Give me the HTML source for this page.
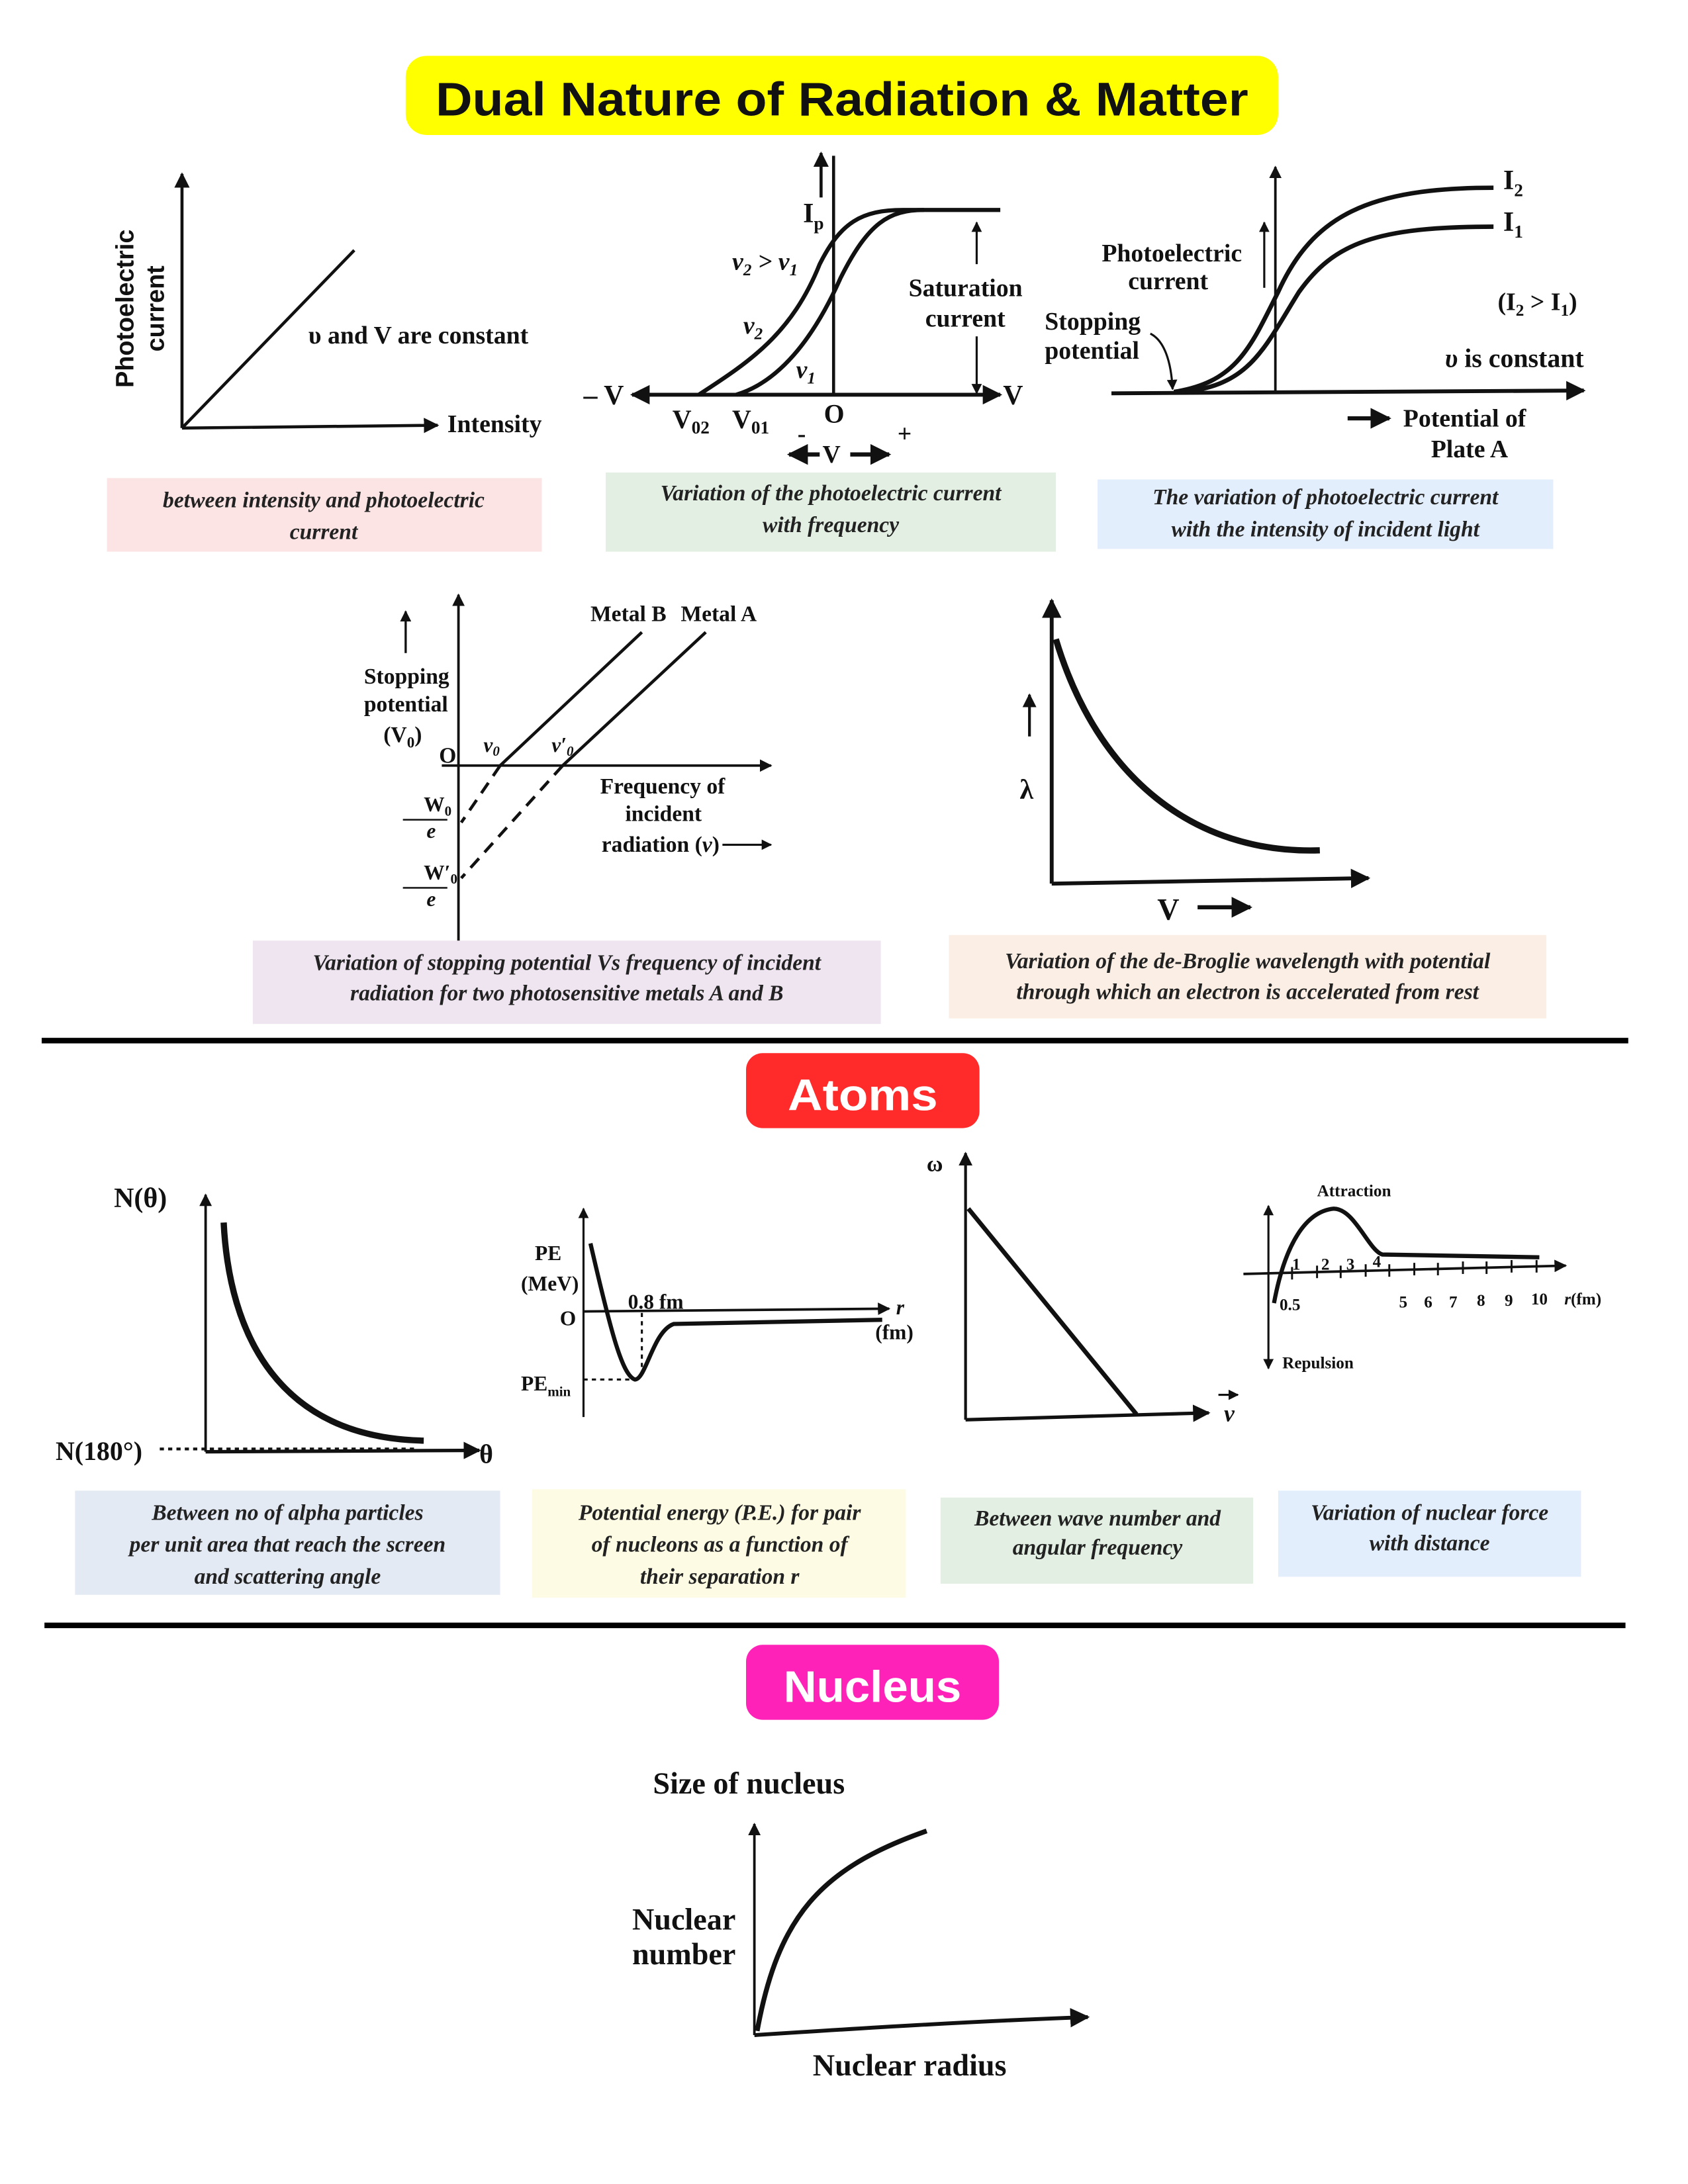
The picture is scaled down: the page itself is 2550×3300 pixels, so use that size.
<!DOCTYPE html>
<html><head><meta charset="utf-8"><style>
html,body{margin:0;padding:0;background:#fff;}
svg{display:block;}
.c{font-family:"Liberation Serif",serif;font-style:italic;font-weight:bold;font-size:16px;fill:#222;}
.l{font-family:"Liberation Serif",serif;font-weight:bold;fill:#111;}
</style></head><body>
<svg width="2550" height="3300" viewBox="0 0 1215 1572" xmlns="http://www.w3.org/2000/svg">
<defs>
<marker id="a" viewBox="0 0 10 10" refX="9" refY="5" markerWidth="5" markerHeight="5" orient="auto-start-reverse"><path d="M0,0 L10,5 L0,10 z" fill="#111"/></marker>
</defs>
<rect width="1215" height="1572" fill="#fff"/>
<!-- Title -->
<rect x="292" y="40" width="628" height="57" rx="15" fill="#ffff00"/>
<text x="606" y="83" text-anchor="middle" font-family="Liberation Sans,sans-serif" font-weight="bold" font-size="34" textLength="585" lengthAdjust="spacingAndGlyphs" fill="#111">Dual Nature of Radiation &amp; Matter</text>

<g stroke="#111" fill="none" stroke-width="2.2">
<!-- Graph1 -->
<line x1="131" y1="308" x2="131" y2="125" marker-end="url(#a)"/>
<line x1="131" y1="308" x2="315" y2="306" marker-end="url(#a)"/>
<line x1="131" y1="308" x2="255" y2="180"/>
<!-- Graph2 -->
<line x1="600" y1="285" x2="600" y2="112"/>
<line x1="591" y1="142" x2="591" y2="110" marker-end="url(#a)"/>
<line x1="455" y1="284" x2="720" y2="284" marker-start="url(#a)" marker-end="url(#a)" stroke-width="2.8"/>
<path d="M503,284 C540,260 570,240 590,190 C605,160 620,151 650,151 L720,151" stroke-width="3"/>
<path d="M530,284 C560,275 585,245 605,200 C625,160 640,151 665,151" stroke-width="3"/>
<line x1="703" y1="190" x2="703" y2="160" marker-end="url(#a)" stroke-width="1.5"/>
<line x1="703" y1="242" x2="703" y2="283" marker-end="url(#a)" stroke-width="1.5"/>
<line x1="590" y1="327" x2="568" y2="327" marker-end="url(#a)" stroke-width="3"/>
<line x1="612" y1="327" x2="640" y2="327" marker-end="url(#a)" stroke-width="3"/>
<!-- Graph3 -->
<line x1="918" y1="283" x2="918" y2="120" stroke-width="1.8" marker-end="url(#a)"/>
<line x1="800" y1="283" x2="1140" y2="281" marker-end="url(#a)" stroke-width="2.8"/>
<path d="M845,282 C890,275 900,250 920,210 C945,155 985,135 1075,135" stroke-width="3.2"/>
<path d="M850,282 C900,278 910,250 935,210 C960,175 990,163 1075,163" stroke-width="3.2"/>
<line x1="910" y1="207" x2="910" y2="160" marker-end="url(#a)" stroke-width="1.5"/>
<path d="M828,240 C838,245 843,260 844,280" stroke-width="1.5" marker-end="url(#a)"/>
<line x1="970" y1="301" x2="1000" y2="301" marker-end="url(#a)" stroke-width="3"/>
<!-- Graph4 -->
<line x1="330" y1="685" x2="330" y2="428" marker-end="url(#a)" stroke-width="1.8"/>
<line x1="292" y1="470" x2="292" y2="440" marker-end="url(#a)" stroke-width="1.6"/>
<line x1="318" y1="551" x2="555" y2="551" marker-end="url(#a)" stroke-width="1.8"/>
<line x1="360" y1="551" x2="462" y2="455"/>
<line x1="360" y1="551" x2="332" y2="592" stroke-dasharray="9,6"/>
<line x1="405" y1="551" x2="508" y2="455"/>
<line x1="405" y1="551" x2="332" y2="632" stroke-dasharray="9,6"/>
<line x1="520" y1="608" x2="555" y2="608" marker-end="url(#a)" stroke-width="1.5"/>
<!-- Graph5 -->
<line x1="757" y1="636" x2="757" y2="432" marker-end="url(#a)" stroke-width="2.8"/>
<line x1="757" y1="636" x2="985" y2="632" marker-end="url(#a)" stroke-width="2.8"/>
<path d="M760,460 C790,560 860,615 950,612" stroke-width="4.5"/>
<line x1="741" y1="530" x2="741" y2="500" marker-end="url(#a)" stroke-width="2"/>
<line x1="862" y1="653" x2="900" y2="653" marker-end="url(#a)" stroke-width="3"/>
<!-- Graph N(theta) -->
<line x1="148" y1="1045" x2="148" y2="860" marker-end="url(#a)" stroke-width="1.8"/>
<line x1="148" y1="1045" x2="345" y2="1044" marker-end="url(#a)" stroke-width="2.5"/>
<path d="M161,880 C165,960 200,1035 305,1037" stroke-width="4.5"/>
<line x1="115" y1="1043" x2="300" y2="1043" stroke-dasharray="3,3" stroke-width="2"/>
<!-- Graph PE -->
<line x1="420" y1="1020" x2="420" y2="870" marker-end="url(#a)" stroke-width="1.5"/>
<line x1="420" y1="944" x2="640" y2="942" marker-end="url(#a)" stroke-width="1.8"/>
<path d="M425,895 C440,960 448,990 457,993 C465,993 470,958 485,953 L635,950" stroke-width="3"/>
<line x1="462" y1="945" x2="462" y2="993" stroke-dasharray="3,3" stroke-width="1.5"/>
<line x1="420" y1="993" x2="455" y2="993" stroke-dasharray="3,3" stroke-width="1.5"/>
<!-- Graph omega -->
<line x1="695" y1="1022" x2="695" y2="830" marker-end="url(#a)" stroke-width="2"/>
<line x1="695" y1="1022" x2="870" y2="1017" marker-end="url(#a)" stroke-width="2.5"/>
<line x1="697" y1="870" x2="818" y2="1018" stroke-width="3.2"/>
<line x1="877" y1="1004" x2="891" y2="1004" marker-end="url(#a)" stroke-width="1.5"/>
<!-- Graph nuclear force -->
<line x1="913" y1="915" x2="913" y2="868" marker-end="url(#a)" stroke-width="1.5"/>
<line x1="913" y1="915" x2="913" y2="985" marker-end="url(#a)" stroke-width="1.5"/>
<line x1="895" y1="917" x2="1127" y2="911" marker-end="url(#a)" stroke-width="1.8"/>
<path d="M917,938 C925,895 940,872 960,870 C975,870 985,900 995,903 L1108,905" stroke-width="3"/>
<g stroke-width="1.4">
<line x1="930" y1="912" x2="930" y2="921"/><line x1="948" y1="911" x2="948" y2="920"/><line x1="965" y1="911" x2="965" y2="920"/><line x1="983" y1="910" x2="983" y2="919"/><line x1="1000" y1="910" x2="1000" y2="919"/><line x1="1018" y1="909" x2="1018" y2="918"/><line x1="1035" y1="909" x2="1035" y2="918"/><line x1="1053" y1="908" x2="1053" y2="917"/><line x1="1070" y1="908" x2="1070" y2="917"/><line x1="1088" y1="907" x2="1088" y2="916"/><line x1="1106" y1="907" x2="1106" y2="916"/>
</g>
<!-- Nucleus graph -->
<line x1="543" y1="1465" x2="543" y2="1313" marker-end="url(#a)" stroke-width="1.8"/>
<path d="M543,1465 C620,1460 700,1455 783,1452" stroke-width="2.8" marker-end="url(#a)"/>
<path d="M545,1462 C560,1380 590,1345 667,1318" stroke-width="3.5"/>
</g>

<!-- Graph1 labels -->
<text class="l" font-family="Liberation Sans,sans-serif" font-size="18" transform="translate(96,222) rotate(-90)" text-anchor="middle" style="font-family:'Liberation Sans',sans-serif">Photoelectric</text>
<text class="l" font-size="18" transform="translate(118,222) rotate(-90)" text-anchor="middle" style="font-family:'Liberation Sans',sans-serif">current</text>
<text class="l" x="222" y="247" font-size="18">υ and V are constant</text>
<text class="l" x="322" y="311" font-size="18">Intensity</text>
<!-- Graph2 labels -->
<text class="l" x="578" y="160" font-size="20">I<tspan font-size="13" dy="5">p</tspan></text>
<text class="l" x="527" y="194" font-size="18" font-style="italic">ν<tspan font-size="12" dy="4">2</tspan><tspan dy="-4"> &gt; ν</tspan><tspan font-size="12" dy="4">1</tspan></text>
<text class="l" x="535" y="240" font-size="18" font-style="italic">ν<tspan font-size="12" dy="4">2</tspan></text>
<text class="l" x="573" y="272" font-size="18" font-style="italic">ν<tspan font-size="12" dy="4">1</tspan></text>
<text class="l" x="654" y="213" font-size="18">Saturation</text>
<text class="l" x="666" y="235" font-size="18">current</text>
<text class="l" x="420" y="291" font-size="20">– V</text>
<text class="l" x="722" y="291" font-size="20">V</text>
<text class="l" x="484" y="308" font-size="19">V<tspan font-size="13" dy="4">02</tspan></text>
<text class="l" x="527" y="308" font-size="19">V<tspan font-size="13" dy="4">01</tspan></text>
<text class="l" x="593" y="304" font-size="19">O</text>
<text class="l" x="574" y="318" font-size="18">-</text>
<text class="l" x="646" y="318" font-size="18">+</text>
<text class="l" x="592" y="333" font-size="18">V</text>
<!-- Graph3 labels -->
<text class="l" x="1082" y="136" font-size="20">I<tspan font-size="13" dy="5">2</tspan></text>
<text class="l" x="1082" y="166" font-size="20">I<tspan font-size="13" dy="5">1</tspan></text>
<text class="l" x="793" y="188" font-size="18">Photoelectric</text>
<text class="l" x="812" y="208" font-size="18">current</text>
<text class="l" x="752" y="237" font-size="18">Stopping</text>
<text class="l" x="752" y="258" font-size="18">potential</text>
<text class="l" x="1078" y="223" font-size="18">(I<tspan font-size="12" dy="4">2</tspan><tspan dy="-4"> &gt; I</tspan><tspan font-size="12" dy="4">1</tspan><tspan dy="-4">)</tspan></text>
<text class="l" x="1040" y="264" font-size="19"><tspan font-style="italic">υ</tspan> is constant</text>
<text class="l" x="1010" y="307" font-size="18">Potential of</text>
<text class="l" x="1030" y="329" font-size="18">Plate A</text>
<!-- Graph4 labels -->
<text class="l" x="425" y="447" font-size="16">Metal B</text>
<text class="l" x="490" y="447" font-size="16">Metal A</text>
<text class="l" x="262" y="492" font-size="16">Stopping</text>
<text class="l" x="262" y="512" font-size="16">potential</text>
<text class="l" x="276" y="534" font-size="16">(V<tspan font-size="11" dy="4">0</tspan><tspan dy="-4">)</tspan></text>
<text class="l" x="316" y="549" font-size="16">O</text>
<text class="l" x="348" y="541" font-size="15" font-style="italic">ν<tspan font-size="10" dy="3">0</tspan></text>
<text class="l" x="397" y="541" font-size="15" font-style="italic">ν′<tspan font-size="10" dy="3">0</tspan></text>
<text class="l" x="432" y="571" font-size="16">Frequency of</text>
<text class="l" x="450" y="591" font-size="16">incident</text>
<text class="l" x="433" y="613" font-size="16">radiation (<tspan font-style="italic">ν</tspan>)</text>
<text class="l" x="305" y="584" font-size="15">W<tspan font-size="10" dy="3">0</tspan></text>
<line x1="290" y1="590" x2="322" y2="590" stroke="#111" stroke-width="1.2"/>
<text class="l" x="307" y="603" font-size="15" font-style="italic">e</text>
<text class="l" x="305" y="633" font-size="15">W′<tspan font-size="10" dy="3">0</tspan></text>
<line x1="290" y1="639" x2="322" y2="639" stroke="#111" stroke-width="1.2"/>
<text class="l" x="307" y="652" font-size="15" font-style="italic">e</text>
<!-- Graph5 labels -->
<text class="l" x="734" y="575" font-size="20">λ</text>
<text class="l" x="833" y="662" font-size="22">V</text>
<!-- Atoms graph labels -->
<text class="l" x="82" y="869" font-size="20">N(θ)</text>
<text class="l" x="40" y="1051" font-size="19">N(180°)</text>
<text class="l" x="345" y="1053" font-size="19">θ</text>
<text class="l" x="385" y="907" font-size="15">PE</text>
<text class="l" x="375" y="929" font-size="15">(MeV)</text>
<text class="l" x="403" y="954" font-size="15">O</text>
<text class="l" x="452" y="942" font-size="15">0.8 fm</text>
<text class="l" x="375" y="1001" font-size="15">PE<tspan font-size="10" dy="4">min</tspan></text>
<text class="l" x="645" y="946" font-size="15" font-style="italic">r</text>
<text class="l" x="630" y="964" font-size="15">(fm)</text>
<text class="l" x="667" y="843" font-size="16">ω</text>
<text class="l" x="881" y="1023" font-size="17" font-style="italic">ν</text>
<text class="l" x="948" y="861" font-size="12">Attraction</text>
<text class="l" x="930" y="914" font-size="12">1</text><text class="l" x="951" y="914" font-size="12">2</text><text class="l" x="969" y="914" font-size="12">3</text><text class="l" x="988" y="912" font-size="12">4</text>
<text class="l" x="921" y="943" font-size="12">0.5</text>
<text class="l" x="1007" y="941" font-size="12">5</text><text class="l" x="1025" y="941" font-size="12">6</text><text class="l" x="1043" y="941" font-size="12">7</text><text class="l" x="1063" y="940" font-size="12">8</text><text class="l" x="1083" y="940" font-size="12">9</text><text class="l" x="1102" y="939" font-size="12">10</text>
<text class="l" x="1126" y="939" font-size="12"><tspan font-style="italic">r</tspan>(fm)</text>
<text class="l" x="923" y="985" font-size="12">Repulsion</text>
<!-- Nucleus graph labels -->
<text class="l" x="470" y="1291" font-size="22" font-weight="normal" style="font-weight:600">Size of nucleus</text>
<text class="l" x="455" y="1389" font-size="22">Nuclear</text>
<text class="l" x="455" y="1414" font-size="22">number</text>
<text class="l" x="585" y="1494" font-size="22">Nuclear radius</text>

<!-- Captions -->
<rect x="77" y="344" width="313" height="53" fill="#fce4e4"/>
<text class="c" x="233" y="365" text-anchor="middle">between intensity and photoelectric</text>
<text class="c" x="233" y="388" text-anchor="middle">current</text>
<rect x="436" y="340" width="324" height="57" fill="#e2efe2"/>
<text class="c" x="598" y="360" text-anchor="middle">Variation of the photoelectric current</text>
<text class="c" x="598" y="383" text-anchor="middle">with frequency</text>
<rect x="790" y="345" width="328" height="50" fill="#e3eefc"/>
<text class="c" x="954" y="363" text-anchor="middle">The variation of photoelectric current</text>
<text class="c" x="954" y="386" text-anchor="middle">with the intensity of incident light</text>
<rect x="182" y="677" width="452" height="60" fill="#efe5f0"/>
<text class="c" x="408" y="698" text-anchor="middle">Variation of stopping potential Vs frequency of incident</text>
<text class="c" x="408" y="720" text-anchor="middle">radiation for two photosensitive metals A and B</text>
<rect x="683" y="673" width="430" height="60" fill="#fbeee4"/>
<text class="c" x="898" y="697" text-anchor="middle">Variation of the de-Broglie wavelength with potential</text>
<text class="c" x="898" y="719" text-anchor="middle">through which an electron is accelerated from rest</text>

<rect x="30" y="747" width="1142" height="4" fill="#000"/>
<rect x="537" y="758" width="168" height="54" rx="12" fill="#ff2a2a"/>
<text x="621" y="799" text-anchor="middle" font-family="Liberation Sans,sans-serif" font-weight="bold" font-size="32" fill="#fff" textLength="108" lengthAdjust="spacingAndGlyphs">Atoms</text>

<rect x="54" y="1073" width="306" height="75" fill="#e4eaf3"/>
<text class="c" x="207" y="1094" text-anchor="middle">Between no of alpha particles</text>
<text class="c" x="207" y="1117" text-anchor="middle">per unit area that reach the screen</text>
<text class="c" x="207" y="1140" text-anchor="middle">and scattering angle</text>
<rect x="383" y="1072" width="269" height="78" fill="#fdfbe3"/>
<text class="c" x="518" y="1094" text-anchor="middle">Potential energy (P.E.) for pair</text>
<text class="c" x="518" y="1117" text-anchor="middle">of nucleons as a function of</text>
<text class="c" x="518" y="1140" text-anchor="middle">their separation r</text>
<rect x="677" y="1078" width="225" height="62" fill="#e2efe2"/>
<text class="c" x="790" y="1098" text-anchor="middle" font-size="15">Between wave number and</text>
<text class="c" x="790" y="1119" text-anchor="middle" font-size="15">angular frequency</text>
<rect x="920" y="1073" width="218" height="62" fill="#e3eefc"/>
<text class="c" x="1029" y="1094" text-anchor="middle" font-size="15">Variation of nuclear force</text>
<text class="c" x="1029" y="1116" text-anchor="middle" font-size="15">with distance</text>

<rect x="32" y="1168" width="1138" height="4" fill="#000"/>
<rect x="537" y="1184" width="182" height="54" rx="12" fill="#ff22b8"/>
<text x="628" y="1225" text-anchor="middle" font-family="Liberation Sans,sans-serif" font-weight="bold" font-size="32" fill="#fff" textLength="128" lengthAdjust="spacingAndGlyphs">Nucleus</text>
</svg>
</body></html>
